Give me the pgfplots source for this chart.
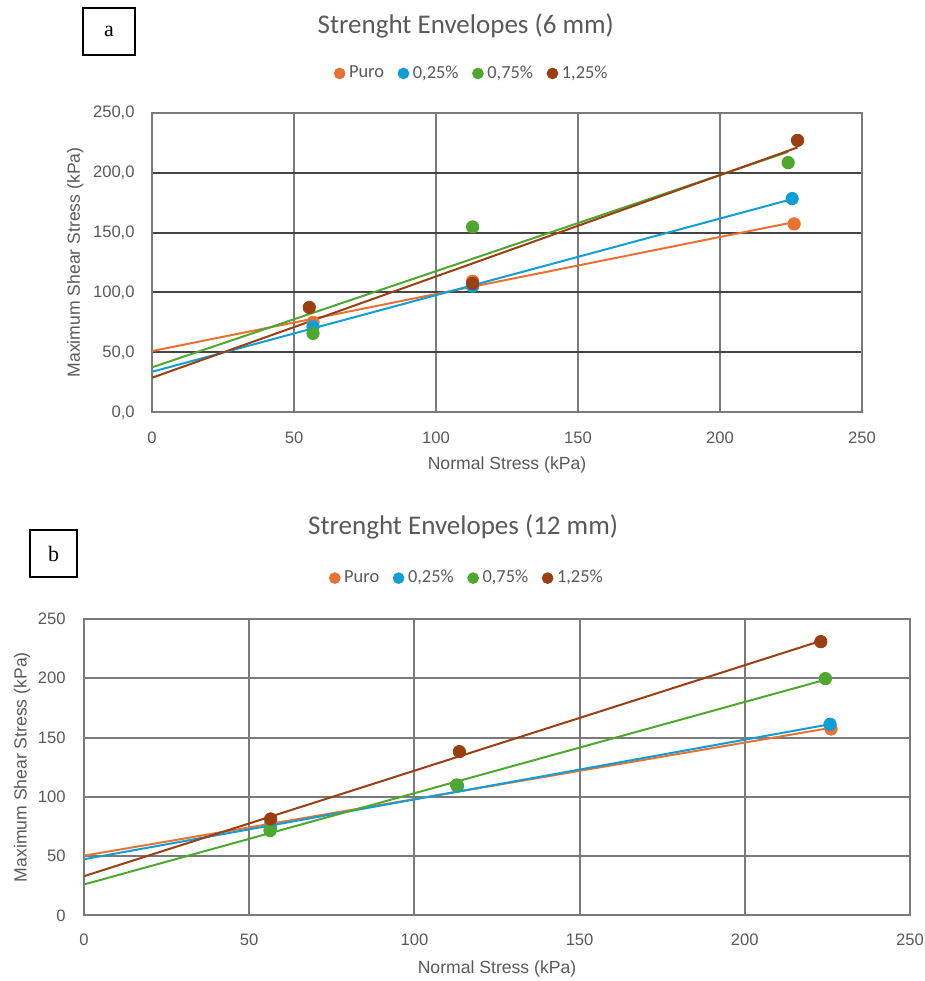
\documentclass[border=0pt]{standalone}
\usepackage{pgfplots}
\pgfplotsset{compat=1.18}
\usepackage{fontspec}
\setmainfont{Liberation Sans}
\newfontfamily\titlefont{Carlito}
\newfontfamily\boxfont{Liberation Serif}
\definecolor{cPuro}{HTML}{E97132}
\definecolor{cA}{HTML}{0F9ED5}
\definecolor{cB}{HTML}{4EA72E}
\definecolor{cC}{HTML}{9A3F12}
\definecolor{txt}{HTML}{595959}
\definecolor{gridv}{HTML}{7A7A7A}
\definecolor{gridh}{HTML}{444444}
\pgfplotsset{
 envstyle/.style={
  scale only axis, xmin=0, xmax=250, ymin=0, ymax=250,
  xtick={0,50,...,250}, ytick={0,50,...,250},
  xmajorgrids, ymajorgrids,
  axis line style={draw=gridv, line width=1pt},
  major tick length=0pt,
  tick style={draw=none},
  ticklabel style={font=\fontsize{8.3}{10}\selectfont, text=txt},
  label style={font=\fontsize{8.8}{10}\selectfont, text=txt},
  title style={font=\titlefont\fontsize{13.5}{15}\selectfont, text=txt, anchor=center, yshift=-6pt},
  legend style={draw=none, fill=none, font=\titlefont\fontsize{9.2}{10}\selectfont, text=txt,
    legend columns=4, anchor=center, inner sep=0pt,
    /tikz/every even column/.append style={column sep=5pt}},
  legend image post style={mark size=2.7pt},
  /pgf/number format/assume math mode=true,
 },
 pts/.style={only marks, mark=*, mark size=3.1pt, color=#1, mark options={draw=#1, fill=#1}},
 tl/.style={no marks, draw=#1, line width=1pt, forget plot},
}
\begin{document}
\begin{tikzpicture}
\useasboundingbox (0,0) rectangle (462.5pt,490.5pt);
% ---------- (a) 6 mm ----------
\begin{axis}[envstyle,
  at={(76pt,284.35pt)}, anchor=south west,
  width=355pt, height=149.8pt,
  x grid style={draw=gridv, line width=1pt},
  y grid style={draw=gridh, line width=1pt},
  yticklabel style={anchor=east, inner sep=0pt, xshift=-8.5pt,
    /pgf/number format/.cd, fixed, fixed zerofill, precision=1, use comma},
  xticklabel style={anchor=center, yshift=-12.5pt},
  title={Strenght Envelopes (6 mm)},
  title style={at={(axis description cs:0.442,1.291)}},
  xlabel={Normal Stress (kPa)},
  xlabel style={at={(axis description cs:0.5,-0.176)}, anchor=center},
  ylabel={Maximum Shear Stress (kPa)},
  ylabel style={at={(axis description cs:-0.108,0.5)}, anchor=center},
  legend style={at={(axis description cs:0.452,1.131)}},
]
\addplot[tl=cPuro] coordinates {(0,51.1) (226.1,158.7)};
\addplot[tl=cA] coordinates {(0,33.8) (225.4,177.9)};
\addplot[tl=cB] coordinates {(0,37.5) (224.0,217.3)};
\addplot[tl=cC] coordinates {(0,28.8) (227.3,221.0)};
\addplot[pts=cPuro] coordinates {(56.7,75.0) (112.9,109.4) (226.1,157.2)};
\addlegendentry{Puro}
\addplot[pts=cA] coordinates {(56.7,71.4) (112.9,105.2) (225.4,178.3)};
\addlegendentry{0,25\%}
\addplot[pts=cB] coordinates {(56.7,65.8) (112.9,154.7) (224.0,208.3)};
\addlegendentry{0,75\%}
\addplot[pts=cC] coordinates {(55.4,87.5) (112.9,107.5) (227.3,226.9)};
\addlegendentry{1,25\%}
\end{axis}
% ---------- (b) 12 mm ----------
\begin{axis}[envstyle,
  at={(42pt,32.85pt)}, anchor=south west,
  width=413pt, height=148.15pt,
  x grid style={draw=gridv, line width=1pt},
  y grid style={draw=gridv, line width=1pt},
  yticklabel style={anchor=east, inner sep=0pt, xshift=-9pt},
  xticklabel style={anchor=center, yshift=-12.35pt},
  title={Strenght Envelopes (12 mm)},
  title style={at={(axis description cs:0.459,1.31)}},
  xlabel={Normal Stress (kPa)},
  xlabel style={at={(axis description cs:0.5,-0.181)}, anchor=center},
  ylabel={Maximum Shear Stress (kPa)},
  ylabel style={at={(axis description cs:-0.075,0.5)}, anchor=center},
  legend style={at={(axis description cs:0.465,1.138)}},
]
\addplot[tl=cPuro] coordinates {(0,50.3) (226.1,158.2)};
\addplot[tl=cA] coordinates {(0,47.3) (225.8,161.2)};
\addplot[tl=cB] coordinates {(0,26.0) (224.4,198.8)};
\addplot[tl=cC] coordinates {(0,33.0) (223.0,231.5)};
\addplot[pts=cPuro] coordinates {(56.5,77.5) (113.0,109.5) (226.1,157.2)};
\addlegendentry{Puro}
\addplot[pts=cA] coordinates {(56.5,74.5) (113.0,109.0) (225.8,161.2)};
\addlegendentry{0,25\%}
\addplot[pts=cB] coordinates {(56.3,71.4) (112.8,110.0) (224.4,199.7)};
\addlegendentry{0,75\%}
\addplot[pts=cC] coordinates {(56.5,81.3) (113.6,138.1) (223.0,230.9)};
\addlegendentry{1,25\%}
\end{axis}
% panel labels
\node[draw=black, line width=0.7pt, minimum width=26pt, minimum height=23.5pt, inner sep=0pt,
  font=\boxfont\fontsize{11}{12}\selectfont] at (54.5pt,474.75pt) {a};
\node[draw=black, line width=0.7pt, minimum width=23.5pt, minimum height=23.5pt, inner sep=0pt,
  font=\boxfont\fontsize{11}{12}\selectfont] at (26.75pt,213.75pt) {b};
\end{tikzpicture}
\end{document}
